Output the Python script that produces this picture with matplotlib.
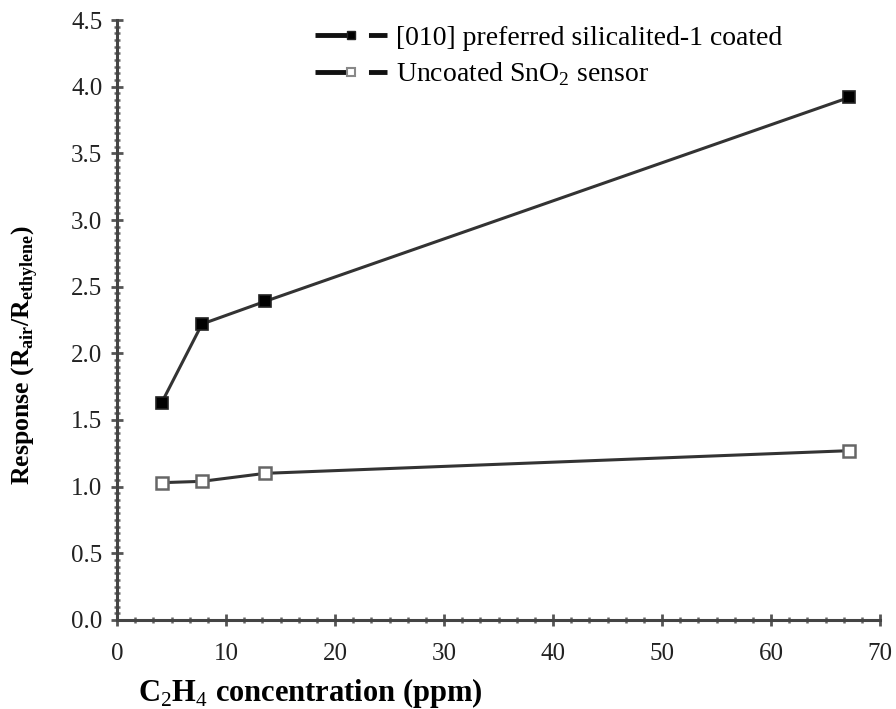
import matplotlib
matplotlib.use("Agg")
import matplotlib.pyplot as plt
from matplotlib.lines import Line2D
from matplotlib.ticker import MultipleLocator

plt.rcParams['font.family'] = ['Liberation Serif', 'DejaVu Serif']
plt.rcParams['mathtext.fontset'] = 'custom'
plt.rcParams['mathtext.rm'] = 'Liberation Serif'
plt.rcParams['mathtext.bf'] = 'Liberation Serif:bold'

conc = [4.1, 7.8, 13.6, 67.2]
coated = [1.63, 2.22, 2.39, 3.92]
uncoated = [1.03, 1.04, 1.10, 1.27]
labels = ['[010] preferred silicalited-1 coated', 'Uncoated SnO$_2$ sensor']
xticks = [0, 10, 20, 30, 40, 50, 60, 70]
yticks = [0.0, 0.5, 1.0, 1.5, 2.0, 2.5, 3.0, 3.5, 4.0, 4.5]

fig = plt.figure(figsize=(8.96, 7.09), dpi=100)
ax = fig.add_axes([117/896, 1 - 620/709, (880-117)/896, (620-20)/709])

lc = '#333333'
ax.plot(conc, coated, color=lc, lw=2.2, marker='s', ms=8,
        mfc='black', mec='#222222', mew=1.2, zorder=3)
ax.plot(conc, uncoated, color=lc, lw=2.2, marker='s', ms=8,
        mfc='white', mec='#666666', mew=1.8, zorder=3)

ax.set_xlim(0, 70)
ax.set_ylim(0, 4.5)
ax.set_xticks(xticks)
ax.set_yticks(yticks)
ax.set_xticklabels([str(v) for v in xticks])
ax.set_yticklabels([f'{v:.1f}' for v in yticks])
ax.xaxis.set_minor_locator(MultipleLocator(10/6))
ax.yaxis.set_minor_locator(MultipleLocator(0.05))

for s in ['top', 'right']:
    ax.spines[s].set_visible(False)
for s in ['left', 'bottom']:
    ax.spines[s].set_linewidth(2.2)
    ax.spines[s].set_color('#444444')

ax.tick_params(which='major', direction='inout', length=9, width=2, color='#555555',
               labelsize=18, labelcolor='#222222')
ax.tick_params(axis='x', which='major', pad=12)
ax.tick_params(axis='y', which='major', pad=6)
ax.tick_params(which='minor', direction='inout', length=5, width=1.8, color='#666666')

ax.set_xlabel('C$_2$H$_4$ concentration (ppm)', fontsize=22, fontweight='bold')
ax.xaxis.set_label_coords((310-117)/(880-117), -(676-620)/600)
ax.set_ylabel(r'Response (R$_{\mathbf{air}}$/R$_{\mathbf{ethylene}}$)', fontsize=18.5,
              fontweight='bold')
ax.yaxis.set_label_coords(-(117-40)/(880-117), (620-355)/600)

h1 = (Line2D([0], [0], color='#111111', lw=3.5, dashes=(6.5, 4.5)),
      Line2D([0], [0], color='none', marker='s', ms=6, mfc='black', mec='#222222'))
h2 = (Line2D([0], [0], color='#111111', lw=3.5, dashes=(6.5, 4.5)),
      Line2D([0], [0], color='none', marker='s', ms=6, mfc='white', mec='#888888', mew=1.5))
leg = ax.legend([h1, h2], labels, loc='upper left', bbox_to_anchor=(0.245, 1.01),
                frameon=False, fontsize=20, handlelength=2.6, handletextpad=0.3,
                labelspacing=0.35, borderaxespad=0)

fig.savefig('out.png', dpi=100)
